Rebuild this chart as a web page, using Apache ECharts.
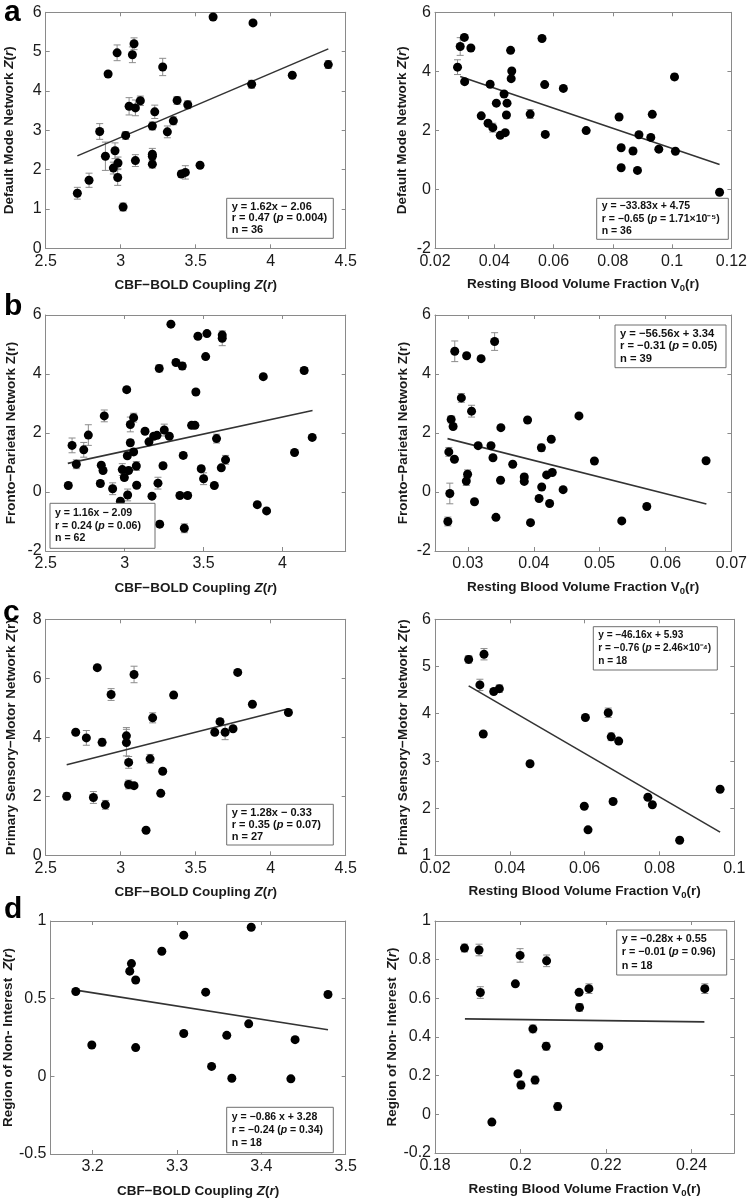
<!DOCTYPE html>
<html><head><meta charset="utf-8">
<script src="https://cdn.jsdelivr.net/npm/echarts@6/dist/echarts.min.js"></script>
<style>html,body{margin:0;padding:0;background:#fff}#c{width:750px;height:1199px}</style>
</head><body><div id="c"></div>
<script>
// ---------------- DATA ----------------
// a-left: CBF-BOLD coupling vs Default Mode Network
const aL_x = [2.711,2.789,2.860,2.898,2.916,2.951,2.962,2.976,2.982,2.980,3.016,3.033,3.056,3.078,3.089,3.098,3.098,3.131,3.211,3.211,3.211,3.211,3.227,3.280,3.311,3.351,3.376,3.404,3.431,3.447,3.529,3.616,3.873,3.882,4.144,4.384];
const aL_y = [1.40,1.73,2.97,2.34,4.43,2.04,2.48,4.97,2.17,1.80,1.05,2.87,3.61,4.92,5.20,3.57,2.23,3.75,3.11,2.39,2.34,2.14,3.47,4.61,2.96,3.24,3.76,1.89,1.93,3.65,2.11,5.88,4.17,5.73,4.40,4.67];
const aL_err = [0.15,0.18,0.2,0.36,0.05,0.15,0.2,0.2,0.15,0.2,0.1,0.1,0.22,0.2,0.15,0.2,0.15,0.12,0.1,0.15,0.1,0.1,0.17,0.22,0.15,0.1,0.1,0.08,0.17,0.1,0.05,0.05,0.1,0.06,0.05,0.1];
const aL_fit = [[2.711,2.35],[4.384,5.07]];
const aL_xticks = [2.5,3,3.5,4,4.5];
const aL_yticks = [0,1,2,3,4,5,6];
const aL_stats = ['y = 1.62x − 2.06','r = 0.47 ({i|p} = 0.004)','n = 36'];

// a-right: resting blood volume vs Default Mode Network
const aR_x = [0.0276,0.0285,0.0299,0.0300,0.0321,0.0356,0.0379,0.0386,0.0395,0.0407,0.0420,0.0433,0.0437,0.0441,0.0443,0.0455,0.0459,0.0457,0.0521,0.0561,0.0570,0.0572,0.0633,0.0710,0.0821,0.0828,0.0828,0.0868,0.0883,0.0888,0.0928,0.0933,0.0955,0.1008,0.1011,0.1160];
const aR_y = [4.14,4.84,5.15,3.65,4.79,2.49,2.24,3.56,2.09,2.92,1.83,3.23,1.92,2.52,2.92,4.71,4.01,3.75,2.55,5.11,3.55,1.86,3.42,1.99,2.45,1.41,0.73,1.30,0.64,1.85,1.76,2.54,1.36,3.81,1.29,-0.10];
const aR_err = [0.25,0.3,0.05,0.05,0.05,0.05,0.08,0.08,0.15,0.05,0.05,0.05,0.05,0.05,0.05,0.05,0.05,0.05,0.15,0.05,0.05,0.05,0.05,0.05,0.05,0.05,0.05,0.1,0.05,0.05,0.05,0.05,0.05,0.1,0.05,0.05];
const aR_fit = [[0.0285,3.82],[0.116,0.84]];
const aR_xticks = [0.02,0.04,0.06,0.08,0.1,0.12];
const aR_yticks = [-2,0,2,4,6];
const aR_stats = ['y = −33.83x + 4.75','r = −0.65 ({i|p} = 1.71×10⁻⁵)','n = 36'];

// b-left: CBF-BOLD coupling vs Fronto-Parietal Network
const bL_x = [2.643,2.667,2.694,2.741,2.770,2.846,2.852,2.863,2.871,2.924,2.973,2.985,2.998,3.013,3.017,3.019,3.025,3.036,3.036,3.057,3.057,3.074,3.076,3.129,3.154,3.173,3.184,3.205,3.211,3.219,3.222,3.243,3.251,3.283,3.293,3.325,3.350,3.365,3.371,3.378,3.399,3.424,3.445,3.451,3.464,3.485,3.500,3.513,3.521,3.568,3.582,3.612,3.618,3.618,3.639,3.840,3.878,3.899,4.076,4.137,4.188];
const bL_y = [0.22,1.58,0.94,1.43,1.93,0.29,0.91,0.73,2.58,0.11,-0.31,0.76,0.49,3.47,1.23,-0.10,0.73,1.67,2.29,2.52,1.36,0.88,0.23,2.06,1.70,-0.14,1.89,1.92,0.30,4.19,-1.09,0.89,2.10,1.89,5.69,4.39,-0.12,4.27,1.24,-1.23,-0.12,2.26,2.26,3.39,5.28,0.79,0.45,4.59,5.37,0.22,1.81,0.82,5.32,5.21,1.09,-0.43,3.91,-0.64,1.34,4.12,1.85];
const bL_err = [0.08,0.25,0.15,0.25,0.35,0.1,0.08,0.08,0.2,0.2, 0.08,0.2,0.1,0.08,0.08,0.2,0.08,0.1,0.25,0.15, 0.1,0.15,0.08,0.08,0.08,0.08,0.08,0.08,0.2,0.12, 0.1,0.08,0.2,0.08,0.05,0.08,0.08,0.12,0.1,0.15, 0.1,0.08,0.08,0.08,0.08,0.08,0.2,0.08,0.05,0.05, 0.15,0.08,0.1,0.25,0.15,0.05,0.05,0.05,0.05,0.1, 0.05];
const bL_fit = [[2.64,0.97],[4.19,2.76]];
const bL_xticks = [2.5,3,3.5,4];
const bL_yticks = [-2,0,2,4,6];
const bL_stats = ['y = 1.16x − 2.09','r = 0.24 ({i|p} = 0.06)','n = 62'];

// b-right: resting blood volume vs Fronto-Parietal Network
const bR_x = [0.02695,0.0271,0.02725,0.02745,0.02775,0.02795,0.0280,0.0290,0.02975,0.0298,0.02995,0.03055,0.0310,0.03155,0.0320,0.0335,0.0338,0.03405,0.03425,0.03495,0.0350,0.0368,0.03855,0.03855,0.03905,0.0395,0.0408,0.04115,0.0412,0.04195,0.0424,0.04265,0.0428,0.04445,0.04685,0.0492,0.05335,0.05715,0.06615];
const bR_y = [-1.00,1.36,-0.05,2.46,2.22,1.11,4.77,3.19,0.37,4.62,0.60,2.74,-0.33,1.57,4.52,1.57,1.16,5.10,-0.86,0.40,2.18,0.94,0.51,0.36,2.44,-1.04,-0.22,1.50,0.17,0.58,-0.39,1.79,0.66,0.08,2.58,1.05,-0.98,-0.49,1.06];
const bR_err = [0.15,0.15,0.35,0.12,0.05,0.05,0.35,0.15,0.15,0.08,0.15,0.2,0.05,0.05,0.05,0.08,0.05,0.3,0.05,0.05,0.05,0.05,0.1,0.05,0.05,0.05,0.05,0.12,0.05,0.05,0.05,0.05,0.05,0.05,0.05,0.05,0.05,0.05,0.05];
const bR_fit = [[0.0269,1.81],[0.0662,-0.41]];
const bR_xticks = [0.03,0.04,0.05,0.06,0.07];
const bR_yticks = [-2,0,2,4,6];
const bR_stats = ['y = −56.56x + 3.34','r = −0.31 ({i|p} = 0.05)','n = 39'];

// c-left: CBF-BOLD coupling vs Primary Sensory-Motor Network
const cL_x = [2.640,2.700,2.771,2.818,2.844,2.876,2.898,2.936,3.038,3.038,3.053,3.053,3.089,3.089,3.196,3.169,3.213,3.267,3.280,3.353,3.627,3.662,3.696,3.749,3.780,3.878,4.118];
const cL_y = [2.00,4.17,3.98,1.96,6.36,3.83,1.71,5.45,4.05,3.82,3.15,2.40,2.36,6.13,3.27,0.85,4.66,2.10,2.85,5.43,4.17,4.53,4.17,4.29,6.20,5.12,4.84];
const cL_err = [0.12,0.05,0.25,0.2,0.05,0.12,0.15,0.2,0.28,0.45,0.2,0.15,0.05,0.28,0.15,0.05,0.17,0.05,0.08,0.1,0.05,0.1,0.25,0.05,0.05,0.05,0.05];
const cL_fit = [[2.64,3.07],[4.118,4.97]];
const cL_xticks = [2.5,3,3.5,4,4.5];
const cL_yticks = [0,2,4,6,8];
const cL_stats = ['y = 1.28x − 0.33','r = 0.35 ({i|p} = 0.07)','n = 27'];

// c-right: resting blood volume vs Primary Sensory-Motor Network
const cR_x = [0.0290,0.0320,0.0331,0.0329,0.0357,0.0372,0.0454,0.0599,0.0602,0.0609,0.0663,0.0671,0.0676,0.0691,0.0769,0.0781,0.0854,0.0962];
const cR_y = [5.15,4.61,5.26,3.57,4.47,4.53,2.94,2.04,3.92,1.54,4.02,3.51,2.14,3.42,2.23,2.07,1.32,2.40];
const cR_err = [0.08,0.12,0.12,0.03,0.05,0.08,0.03,0.03,0.03,0.03,0.1,0.08,0.03,0.03,0.03,0.03,0.03,0.03];
const cR_fit = [[0.029,4.59],[0.0962,1.49]];
const cR_xticks = [0.02,0.04,0.06,0.08,0.1];
const cR_yticks = [1,2,3,4,5,6];
const cR_stats = ['y = −46.16x + 5.93','r = −0.76 ({i|p} = 2.46×10⁻⁴)','n = 18'];

// d-left: CBF-BOLD coupling vs Region of Non-Interest
const dL_x = [3.180,3.199,3.244,3.246,3.251,3.251,3.282,3.308,3.308,3.334,3.341,3.359,3.365,3.385,3.388,3.435,3.440,3.479];
const dL_y = [0.546,0.202,0.677,0.726,0.620,0.185,0.805,0.909,0.276,0.542,0.064,0.264,-0.012,0.338,0.960,-0.016,0.236,0.527];
const dL_err = [0.012,0.012,0.012,0.012,0.012,0.012,0.012,0.012,0.012,0.012,0.012,0.012,0.012,0.012,0.012,0.012,0.012,0.012];
const dL_fit = [[3.18,0.555],[3.479,0.30]];
const dL_xticks = [3.2,3.3,3.4,3.5];
const dL_yticks = [-0.5,0,0.5,1];
const dL_stats = ['y = −0.86 x + 3.28','r = −0.24 ({i|p} = 0.34)','n = 18'];

// d-right: resting blood volume vs Region of Non-Interest
const dR_x = [0.1869,0.1903,0.1906,0.1933,0.1988,0.1994,0.1999,0.2001,0.2029,0.2034,0.2060,0.2061,0.2087,0.2137,0.2138,0.2160,0.2183,0.2431];
const dR_y = [0.86,0.85,0.63,-0.04,0.675,0.21,0.822,0.152,0.442,0.177,0.352,0.794,0.04,0.631,0.553,0.650,0.35,0.65];
const dR_err = [0.02,0.03,0.03,0.01,0.01,0.01,0.035,0.02,0.02,0.02,0.02,0.03,0.02,0.01,0.02,0.025,0.015,0.025];
const dR_fit = [[0.187,0.494],[0.243,0.478]];
const dR_xticks = [0.18,0.2,0.22,0.24];
const dR_yticks = [-0.2,0,0.2,0.4,0.6,0.8,1];
const dR_stats = ['y = −0.28x + 0.55','r = −0.01 ({i|p} = 0.96)','n = 18'];

// axis ranges
const aL_xrange = [2.5,4.5],  aL_yrange = [0,6];
const aR_xrange = [0.02,0.12], aR_yrange = [-2,6];
const bL_xrange = [2.5,4.4],  bL_yrange = [-2,6];
const bR_xrange = [0.025,0.07], bR_yrange = [-2,6];
const cL_xrange = [2.5,4.5],  cL_yrange = [0,8];
const cR_xrange = [0.02,0.1], cR_yrange = [1,6];
const dL_xrange = [3.15,3.5], dL_yrange = [-0.5,1];
const dR_xrange = [0.18,0.25], dR_yrange = [-0.2,1];

// axis titles
const xNameLeft = 'CBF−BOLD Coupling {i|Z}({i|r})';
const xNameRight = 'Resting Blood Volume Fraction V{s|0}(r)';
const yNames = [
  'Default Mode Network {i|Z}({i|r})',
  'Default Mode Network {i|Z}({i|r})',
  'Fronto−Parietal Network Z(r)',
  'Fronto−Parietal Network Z(r)',
  'Primary Sensory−Motor Network {i|Z}(r)',
  'Primary Sensory−Motor Network {i|Z}(r)',
  'Region of Non- Interest  {i|Z}({i|r})',
  'Region of Non- Interest  {i|Z}({i|r})'
];
const panelLetters = ['a','b','c','d'];

// ---------------- LAYOUT ----------------
const FONT = '"Liberation Sans", Arial, Helvetica, sans-serif';
const colLeft = [45.7, 435];
const colWidth = [300, 299.3];
const rowTop = [12.3, 315, 619.3, 921];
const rowH = 236;
const boxes = [
  {x:226.7,y:198.3,w:106.6,h:40,fs:11,lh:11.7},
  {x:596.7,y:198.3,w:131.6,h:41,fs:10.5,lh:12.3},
  {x:50,y:503.3,w:105,h:45,fs:10.6,lh:12.5},
  {x:615,y:325,w:111,h:42.7,fs:11.2,lh:12.8},
  {x:226.7,y:804.3,w:106.6,h:40.7,fs:11,lh:12},
  {x:593.3,y:626.7,w:124,h:43.3,fs:10.1,lh:13.2},
  {x:226.7,y:1107.3,w:106.6,h:45.4,fs:10.5,lh:13.2},
  {x:616.7,y:930,w:110,h:45,fs:10.8,lh:13.2}
];
const yGaps = [29,26,27,25,27,25,29,28];
const letterPos = [[4,13],[4,306.5],[3,612.5],[4,909.5]];

const panels = [
  {x:aL_x,y:aL_y,e:aL_err,fit:aL_fit,xr:aL_xrange,yr:aL_yrange,xt:aL_xticks,yt:aL_yticks,st:aL_stats},
  {x:aR_x,y:aR_y,e:aR_err,fit:aR_fit,xr:aR_xrange,yr:aR_yrange,xt:aR_xticks,yt:aR_yticks,st:aR_stats},
  {x:bL_x,y:bL_y,e:bL_err,fit:bL_fit,xr:bL_xrange,yr:bL_yrange,xt:bL_xticks,yt:bL_yticks,st:bL_stats},
  {x:bR_x,y:bR_y,e:bR_err,fit:bR_fit,xr:bR_xrange,yr:bR_yrange,xt:bR_xticks,yt:bR_yticks,st:bR_stats},
  {x:cL_x,y:cL_y,e:cL_err,fit:cL_fit,xr:cL_xrange,yr:cL_yrange,xt:cL_xticks,yt:cL_yticks,st:cL_stats},
  {x:cR_x,y:cR_y,e:cR_err,fit:cR_fit,xr:cR_xrange,yr:cR_yrange,xt:cR_xticks,yt:cR_yticks,st:cR_stats},
  {x:dL_x,y:dL_y,e:dL_err,fit:dL_fit,xr:dL_xrange,yr:dL_yrange,xt:dL_xticks,yt:dL_yticks,st:dL_stats},
  {x:dR_x,y:dR_y,e:dR_err,fit:dR_fit,xr:dR_xrange,yr:dR_yrange,xt:dR_xticks,yt:dR_yticks,st:dR_stats}
];

const AXC = '#8a8a8a';
const TXT = '#1a1a1a';
const fmt = v => String(parseFloat(Number(v).toFixed(4)));
const nameStyle = {
  fontFamily: FONT, fontSize: 13.5, fontWeight: 'bold', color: TXT,
  rich: {
    i: { fontFamily: FONT, fontSize: 13.5, fontWeight: 'bold', fontStyle: 'italic', color: TXT },
    s: { fontFamily: FONT, fontSize: 9.5, fontWeight: 'bold', color: TXT, padding: [8, 0, 0, 0] }
  }
};

function errRender(params, api) {
  const x = api.value(0), y = api.value(1), e = api.value(2);
  const t = api.coord([x, y + e]);
  const b = api.coord([x, y - e]);
  const hw = 3.5;
  const st = { stroke: '#8c8c8c', lineWidth: 1 };
  return { type: 'group', children: [
    { type: 'line', shape: { x1: t[0], y1: t[1], x2: b[0], y2: b[1] }, style: st },
    { type: 'line', shape: { x1: t[0] - hw, y1: t[1], x2: t[0] + hw, y2: t[1] }, style: st },
    { type: 'line', shape: { x1: b[0] - hw, y1: b[1], x2: b[0] + hw, y2: b[1] }, style: st }
  ]};
}

const grids = [], xAxes = [], yAxes = [], series = [], graphics = [];
panels.forEach((p, i) => {
  const col = i % 2, row = Math.floor(i / 2);
  grids.push({ left: colLeft[col], top: rowTop[row], width: colWidth[col], height: rowH, show: false });
  const lineCfg = { show: true, onZero: false, lineStyle: { color: AXC, width: 1 } };
  const xTick = { show: true, inside: true, length: 4, lineStyle: { color: AXC }, customValues: p.xt };
  const yTick = { show: true, inside: true, length: 4, lineStyle: { color: AXC }, customValues: p.yt };
  xAxes.push({
    type: 'value', gridIndex: i, position: 'bottom', min: p.xr[0], max: p.xr[1],
    splitLine: { show: false }, axisLine: lineCfg, axisTick: xTick,
    axisLabel: { customValues: p.xt, formatter: fmt, fontFamily: FONT, fontSize: 16, color: TXT, margin: 5 },
    name: col === 0 ? xNameLeft : xNameRight, nameLocation: 'middle', nameGap: col === 0 ? 30 : 27,
    nameTextStyle: nameStyle
  });
  xAxes.push({
    type: 'value', gridIndex: i, position: 'top', min: p.xr[0], max: p.xr[1],
    splitLine: { show: false }, axisLine: lineCfg, axisTick: xTick, axisLabel: { show: false }
  });
  yAxes.push({
    type: 'value', gridIndex: i, position: 'left', min: p.yr[0], max: p.yr[1],
    splitLine: { show: false }, axisLine: lineCfg, axisTick: yTick,
    axisLabel: { customValues: p.yt, formatter: fmt, fontFamily: FONT, fontSize: 16, color: TXT, margin: 4 },
    name: yNames[i], nameLocation: 'middle', nameGap: yGaps[i], nameTextStyle: nameStyle
  });
  yAxes.push({
    type: 'value', gridIndex: i, position: 'right', min: p.yr[0], max: p.yr[1],
    splitLine: { show: false }, axisLine: lineCfg, axisTick: yTick, axisLabel: { show: false }
  });
  series.push({
    type: 'custom', xAxisIndex: 2 * i, yAxisIndex: 2 * i, renderItem: errRender, silent: true, z: 2,
    data: p.x.map((v, k) => [v, p.y[k], p.e[k]]), encode: { x: 0, y: 1 }
  });
  series.push({
    type: 'line', xAxisIndex: 2 * i, yAxisIndex: 2 * i, data: p.fit, symbol: 'none', silent: true, z: 3,
    lineStyle: { color: '#333', width: 1.6 }
  });
  series.push({
    type: 'scatter', xAxisIndex: 2 * i, yAxisIndex: 2 * i, silent: true, z: 4,
    data: p.x.map((v, k) => [v, p.y[k]]), symbol: 'circle', symbolSize: 9,
    itemStyle: { color: '#000', opacity: 1 }
  });
  const bx = boxes[i];
  graphics.push({
    type: 'rect', shape: { x: bx.x, y: bx.y, width: bx.w, height: bx.h }, z: 100,
    style: { fill: '#fff', stroke: '#6e6e6e', lineWidth: 1 }
  });
  graphics.push({
    type: 'text', x: bx.x + 5, y: bx.y + bx.h / 2, z: 101,
    style: {
      text: p.st.join('\n'), fontFamily: FONT, fontSize: bx.fs, fontWeight: 'bold', fill: '#111',
      align: 'left', verticalAlign: 'middle', lineHeight: bx.lh,
      rich: { i: { fontFamily: FONT, fontSize: bx.fs, fontWeight: 'bold', fontStyle: 'italic', fill: '#111', lineHeight: bx.lh } }
    }
  });
});
panelLetters.forEach((l, r) => {
  graphics.push({
    type: 'text', x: letterPos[r][0], y: letterPos[r][1], z: 101,
    style: { text: l, fontFamily: FONT, fontSize: 30, fontWeight: 'bold', fill: '#000', align: 'left', verticalAlign: 'middle' }
  });
});

const chart = echarts.init(document.getElementById('c'), null, { renderer: 'canvas' });
chart.setOption({
  animation: false,
  backgroundColor: '#fff',
  grid: grids, xAxis: xAxes, yAxis: yAxes, series: series,
  graphic: { elements: graphics }
});
</script></body></html>
